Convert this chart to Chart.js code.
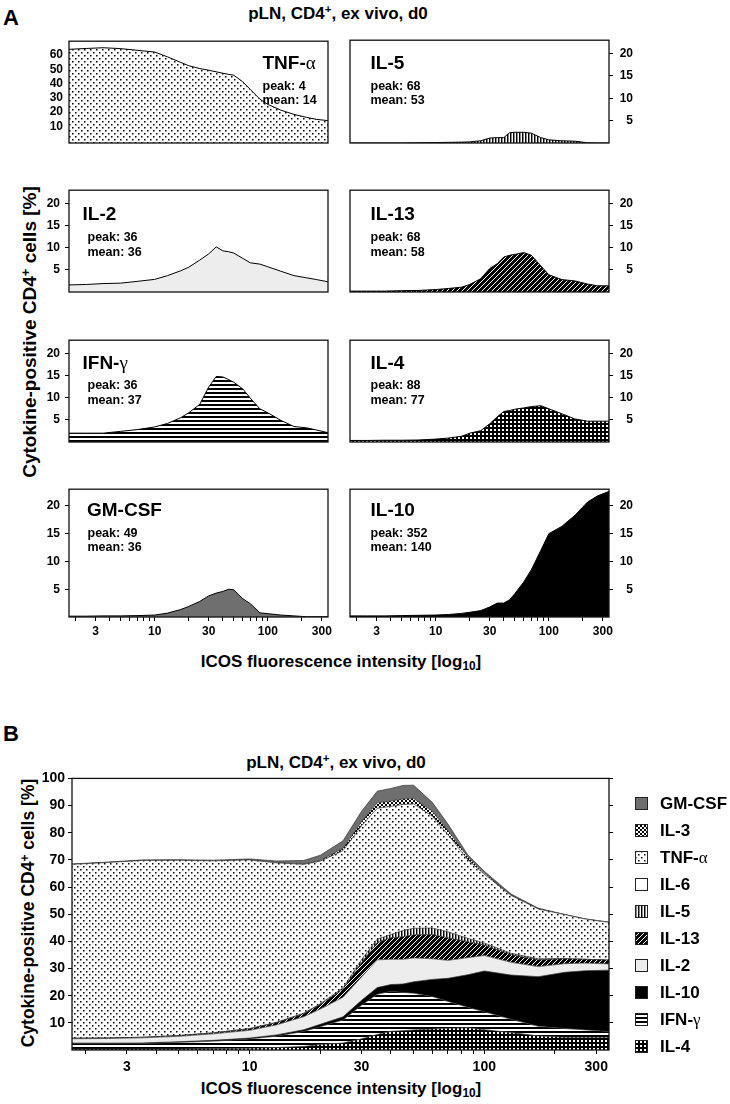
<!DOCTYPE html>
<html lang="en">
<head>
<meta charset="utf-8">
<title>ICOS expression of cytokine-positive CD4+ cells</title>
<script src="https://cdn.jsdelivr.net/npm/chart.js"></script>
<style>
    body { margin: 0; background: #fff; }
    #page { position: relative; width: 730px; height: 1104px; overflow: hidden;
            font-family: "Liberation Sans", Arial, sans-serif; font-weight: bold; color: #000; }
    #page canvas { position: absolute; }
    .t { position: absolute; white-space: nowrap; line-height: 1; transform: translateY(-50%); }
    .c { transform: translate(-50%, -50%); }
    .v { transform: translate(-50%, -50%) rotate(-90deg); }
    .g { font-family: "Liberation Serif", serif; font-weight: normal; }
    sup { font-size: 0.68em; vertical-align: 0.45em; line-height: 0; }
    sub { font-size: 0.7em; vertical-align: -0.3em; line-height: 0; }
</style>
</head>
<body>
<div id="page">
    <!-- Panel A headings -->
    <div class="t" style="left:3px; top:18px; font-size:22px;">A</div>
    <div class="t c" style="left:338px; top:13px; font-size:17px;">pLN, CD4<sup>+</sup>, ex vivo, d0</div>
    <div class="t v" style="left:29px; top:332px; font-size:19px;">Cytokine-positive CD4<sup>+</sup> cells [%]</div>
    <div class="t c" style="left:341px; top:661px; font-size:17px;">ICOS fluorescence intensity [log<sub>10</sub>]</div>

    <!-- Panel B headings -->
    <div class="t" style="left:3px; top:734px; font-size:22px;">B</div>
    <div class="t c" style="left:336px; top:762px; font-size:17px;">pLN, CD4<sup>+</sup>, ex vivo, d0</div>
    <div class="t v" style="left:29px; top:913px; font-size:17.5px;">Cytokine-positive CD4<sup>+</sup> cells [%]</div>
    <div class="t c" style="left:341px; top:1088px; font-size:17px;">ICOS fluorescence intensity [log<sub>10</sub>]</div>
</div>

<script>
    // ICOS intensity bins (x) and % cytokine-positive cells per bin
    const icos  = [1.75, 2.5, 3.5, 5, 7, 10, 13, 17, 20, 25, 30, 35, 40, 45, 50, 60, 70, 85, 100, 130, 170, 220, 270, 340];
    const tnfA  = [64.0, 64.6, 65.1, 64.5, 63.3, 62.1, 58.7, 54.8, 52.5, 50.5, 49.3, 48.2, 47.2, 46.4, 45.8, 41.2, 35.8, 29.0, 25.3, 21.3, 18.3, 16.2, 14.8, 13.9];
    const il5   = [0, 0, 0, 0, 0.05, 0.1, 0.15, 0.2, 0.25, 0.5, 1.1, 1.2, 1.2, 2.3, 2.4, 2.4, 2.2, 1.2, 0.7, 0.5, 0.4, 0.05, 0, 0];
    const il2   = [1.6, 1.7, 1.9, 2.0, 2.4, 2.85, 3.7, 4.8, 5.6, 7.2, 8.6, 10.2, 9.3, 9.1, 8.8, 7.6, 6.6, 6.3, 5.7, 4.7, 3.7, 3.2, 2.8, 2.3];
    const il13  = [0.2, 0.2, 0.2, 0.3, 0.35, 0.55, 0.8, 1.1, 1.7, 3.0, 5.3, 6.4, 7.9, 8.3, 8.5, 8.9, 8.3, 5.9, 3.9, 2.8, 2.5, 1.8, 1.4, 1.4];
    const ifng  = [2.0, 2.0, 2.0, 2.4, 2.8, 3.4, 4.2, 5.5, 6.6, 8.5, 12.4, 14.8, 14.7, 14.1, 13.5, 12.0, 9.9, 7.5, 6.6, 4.9, 3.5, 3.2, 2.7, 2.1];
    const il4   = [0.35, 0.35, 0.4, 0.4, 0.45, 0.65, 0.9, 1.3, 2.0, 2.55, 4.1, 5.7, 6.9, 7.1, 7.4, 7.7, 8.0, 8.2, 7.5, 6.4, 5.2, 4.7, 4.7, 4.7];
    const gmcsf = [0.15, 0.15, 0.2, 0.2, 0.25, 0.35, 0.7, 1.35, 1.9, 2.8, 3.8, 4.3, 4.6, 5.0, 4.9, 3.3, 2.4, 0.75, 0.6, 0.35, 0.2, 0.05, 0.05, 0.05];
    const il10  = [0.2, 0.2, 0.2, 0.25, 0.3, 0.35, 0.45, 0.65, 0.85, 1.15, 1.8, 2.5, 2.5, 3.1, 4.2, 6.3, 8.5, 12.0, 15.0, 16.3, 18.3, 20.7, 21.8, 22.6];
    const il3   = [0, 0, 0, 0, 0, 0, 0, 0.1, 0.3, 0.8, 1.5, 2.0, 2.0, 2.0, 2.0, 1.8, 1.5, 1.0, 0.5, 0.2, 0.1, 0, 0, 0];
    const il6   = [0, 0, 0, 0, 0, 0, 0, 0, 0, 0, 0, 0, 0, 0, 0, 0, 0, 0, 0, 0, 0, 0, 0, 0];

    // axis ticks
    const xTicks  = [2, 3, 4, 5, 6, 7, 8, 9, 10, 20, 30, 40, 50, 60, 70, 80, 90, 100, 200, 300];
    const xLabels = [3, 10, 30, 100, 300];
    const smallTicks = [5, 10, 15, 20];
    const tnfTicks   = [10, 20, 30, 40, 50, 60];
    const bTicks     = [10, 20, 30, 40, 50, 60, 70, 80, 90, 100];

    const FONT = '"Liberation Sans", Arial, sans-serif';
    const page = document.getElementById('page');

    // hatch fills
    function tile(w, h, paint) {
        const c = document.createElement('canvas');
        c.width = w; c.height = h;
        const g = c.getContext('2d');
        g.fillStyle = '#fff';
        g.fillRect(0, 0, w, h);
        paint(g);
        return g.createPattern(c, 'repeat');
    }
    const fills = {
        dots: tile(6, 6, g => { g.fillStyle = '#000'; g.fillRect(0, 0, 1.5, 1.5); g.fillRect(3, 3, 1.5, 1.5); }),
        vstripes: tile(3, 1, g => { g.fillStyle = '#000'; g.fillRect(0, 0, 1, 1); g.fillStyle = '#888'; g.fillRect(1, 0, 1, 1); }),
        light: '#ededed',
        hstripes: tile(1, 4, g => { g.fillStyle = '#000'; g.fillRect(0, 0, 1, 2); }),
        gray: '#6f6f6f',
        il13: tile(5, 5, g => {
            g.fillStyle = '#000'; g.fillRect(0, 0, 5, 5);
            g.fillStyle = '#fff';
            for (let i = 0; i < 5; i++) g.fillRect(i, 4 - i, 1, 1);
        }),
        il4: tile(4, 4, g => { g.fillStyle = '#000'; g.fillRect(0, 0, 4, 4); g.fillStyle = '#fff'; g.fillRect(1, 1, 2, 2); }),
        black: '#000',
        cross: tile(4, 4, g => {
            g.fillStyle = '#000';
            for (let i = 0; i < 4; i++) { g.fillRect(i, i, 1, 1); g.fillRect(3 - i, i, 1, 1); }
        }),
        white: '#fff'
    };

    // box around every plot area
    const frame = {
        id: 'frame',
        afterDatasetsDraw(chart) {
            const {ctx, chartArea: a} = chart;
            ctx.save();
            ctx.strokeStyle = '#111';
            ctx.lineWidth = 1.3;
            ctx.strokeRect(a.left, a.top, a.right - a.left, a.bottom - a.top);
            ctx.restore();
        }
    };

    function addCanvas(left, top, w, h) {
        const c = document.createElement('canvas');
        c.width = w; c.height = h;
        c.style.left = left + 'px'; c.style.top = top + 'px';
        c.style.width = w + 'px'; c.style.height = h + 'px';
        page.appendChild(c);
        return c;
    }

    function addText(html, left, top, size) {
        const d = document.createElement('div');
        d.className = 't';
        d.style.left = left + 'px';
        d.style.top = top + 'px';
        d.style.fontSize = size + 'px';
        d.innerHTML = html;
        page.appendChild(d);
    }

    function nameHtml(n) {
        return n.replace(/([αγ])/g, '<span class="g">$1</span>');
    }

    function font(size) { return {family: FONT, size: size, weight: 'bold'}; }

    function logAxis(show, height, size, pad) {
        return {
            type: 'logarithmic', min: 1.75, max: 340, display: show,
            afterBuildTicks: s => { s.ticks = xTicks.map(v => ({value: v})); },
            afterFit: s => { s.height = height; },
            border: {display: false},
            grid: {drawOnChartArea: false, drawTicks: true, tickLength: 4, color: '#000'},
            ticks: {autoSkip: false, maxRotation: 0, minRotation: 0, padding: pad, color: '#000', font: font(size),
                    callback: v => xLabels.includes(v) ? String(v) : ''}
        };
    }

    // ---------- Panel A: one small chart per cytokine ----------
    const panels = [
        {name: 'TNF-α',  peak: 4,   mean: 14,  values: tnfA,  fill: 'dots',     col: 0, row: 0},
        {name: 'IL-5',   peak: 68,  mean: 53,  values: il5,   fill: 'vstripes', col: 1, row: 0},
        {name: 'IL-2',   peak: 36,  mean: 36,  values: il2,   fill: 'light',    col: 0, row: 1},
        {name: 'IL-13',  peak: 68,  mean: 58,  values: il13,  fill: 'il13',     col: 1, row: 1},
        {name: 'IFN-γ',  peak: 36,  mean: 37,  values: ifng,  fill: 'hstripes', col: 0, row: 2},
        {name: 'IL-4',   peak: 88,  mean: 77,  values: il4,   fill: 'il4',      col: 1, row: 2},
        {name: 'GM-CSF', peak: 49,  mean: 36,  values: gmcsf, fill: 'gray',     col: 0, row: 3},
        {name: 'IL-10',  peak: 352, mean: 140, values: il10,  fill: 'black',    col: 1, row: 3}
    ];
    const rowTop = [36, 186, 336, 485];
    const rowH   = [133, 132, 132, 132];
    const titleY = [62, 213, 362, 509];
    const peakY  = [85.5, 237, 385, 532.5];
    const meanY  = [99.5, 251.5, 399.5, 547];

    panels.forEach(p => {
        const isTnf = p.name === 'TNF-α';
        const last = p.row === 3;
        const left = p.col === 0 ? 15 : 345;
        const w = p.col === 0 ? 325 : 300;
        const h = rowH[p.row];
        const ch = last ? 8 + h + 26 + 2 : h + 16;
        const cv = addCanvas(left, rowTop[p.row] - 8, w, ch);

        new Chart(cv, {
            type: 'line',
            data: {
                datasets: [{
                    data: icos.map((x, i) => ({x: x, y: p.values[i]})),
                    fill: 'start',
                    backgroundColor: fills[p.fill],
                    borderColor: '#000',
                    borderWidth: 1,
                    pointRadius: 0,
                    tension: 0
                }]
            },
            options: {
                responsive: false, animation: false, devicePixelRatio: 1, events: [],
                layout: {padding: {top: 8, bottom: last ? 2 : 8, left: p.col === 0 ? 0 : 5, right: 12}},
                plugins: {legend: {display: false}, tooltip: {enabled: false}},
                scales: {
                    x: logAxis(last, 26, 12, 3),
                    y: {
                        position: p.col === 0 ? 'left' : 'right',
                        min: isTnf ? -1.8 : 0,
                        max: isTnf ? 69.7 : 23,
                        afterBuildTicks: s => { s.ticks = (isTnf ? tnfTicks : smallTicks).map(v => ({value: v})); },
                        afterFit: s => { s.width = p.col === 0 ? 54 : 24; },
                        border: {display: false},
                        grid: {drawOnChartArea: false, drawTicks: !isTnf, tickLength: 4, color: '#000'},
                        ticks: {color: '#000', font: font(12), padding: isTnf ? 6 : 5,
                                crossAlign: p.col === 0 ? 'near' : 'far'}
                    }
                }
            },
            plugins: [frame]
        });

        // panel labels
        let tx = p.col === 0 ? 82.5 : 370.5;
        let sx = p.col === 0 ? 87.5 : 370.5;
        if (isTnf) { tx = 262.5; sx = 262.5; }
        if (p.name === 'GM-CSF') tx = 87;
        addText(nameHtml(p.name), tx, titleY[p.row], 19);
        addText('peak: ' + p.peak, sx, peakY[p.row], 12.5);
        addText('mean: ' + p.mean, sx, meanY[p.row], 12.5);
    });

    // ---------- Panel B: stacked areas ----------
    const stackOrder = [
        {name: 'IL-4',   values: il4,   fill: 'il4'},
        {name: 'IFN-γ',  values: ifng,  fill: 'hstripes'},
        {name: 'IL-10',  values: il10,  fill: 'black'},
        {name: 'IL-2',   values: il2,   fill: 'light'},
        {name: 'IL-13',  values: il13,  fill: 'il13'},
        {name: 'IL-5',   values: il5,   fill: 'vstripes'},
        {name: 'IL-6',   values: il6,   fill: 'white'},
        {name: 'TNF-α',  values: tnfA,  fill: 'dots'},
        {name: 'IL-3',   values: il3,   fill: 'cross'},
        {name: 'GM-CSF', values: gmcsf, fill: 'gray'}
    ];

    const cvB = addCanvas(20, 767, 620, 313);
    new Chart(cvB, {
        type: 'line',
        data: {
            datasets: stackOrder.map((s, k) => ({
                label: s.name,
                data: icos.map((x, i) => ({x: x, y: s.values[i]})),
                fill: k === 0 ? 'origin' : '-1',
                backgroundColor: fills[s.fill],
                borderColor: '#333',
                borderWidth: s.name === 'IL-6' ? 0 : 0.7,
                pointRadius: 0,
                tension: 0
            }))
        },
        options: {
            responsive: false, animation: false, devicePixelRatio: 1, events: [],
            layout: {padding: {top: 10, bottom: 2, left: 0, right: 21}},
            plugins: {legend: {display: false}, tooltip: {enabled: false}},
            scales: {
                x: logAxis(true, 28, 14, 5),
                y: {
                    stacked: true, min: 0, max: 100, position: 'left',
                    afterBuildTicks: s => { s.ticks = bTicks.map(v => ({value: v})); },
                    afterFit: s => { s.width = 52; },
                    border: {display: false},
                    grid: {drawOnChartArea: false, tickLength: 4, color: '#000'},
                    ticks: {color: '#000', font: font(14), padding: 3}
                },
                y2: {
                    min: 0, max: 100, position: 'right',
                    afterBuildTicks: s => { s.ticks = bTicks.map(v => ({value: v})); },
                    afterFit: s => { s.width = 10; },
                    border: {display: false},
                    grid: {drawOnChartArea: false, tickLength: 4, color: '#000'},
                    ticks: {callback: () => '', padding: 0}
                }
            }
        },
        plugins: [frame]
    });

    // legend, top entry = top of the stack
    stackOrder.slice().reverse().forEach((s, i) => {
        const cy = 803 + 27 * i;
        const sw = addCanvas(635, Math.round(cy - 6.5), 13, 13);
        const g = sw.getContext('2d');
        g.fillStyle = fills[s.fill];
        g.fillRect(0, 0, 13, 13);
        g.strokeStyle = '#222';
        g.lineWidth = 1;
        g.strokeRect(0.5, 0.5, 12, 12);
        addText(nameHtml(s.name), 660, cy, 17);
    });
</script>
</body>
</html>
